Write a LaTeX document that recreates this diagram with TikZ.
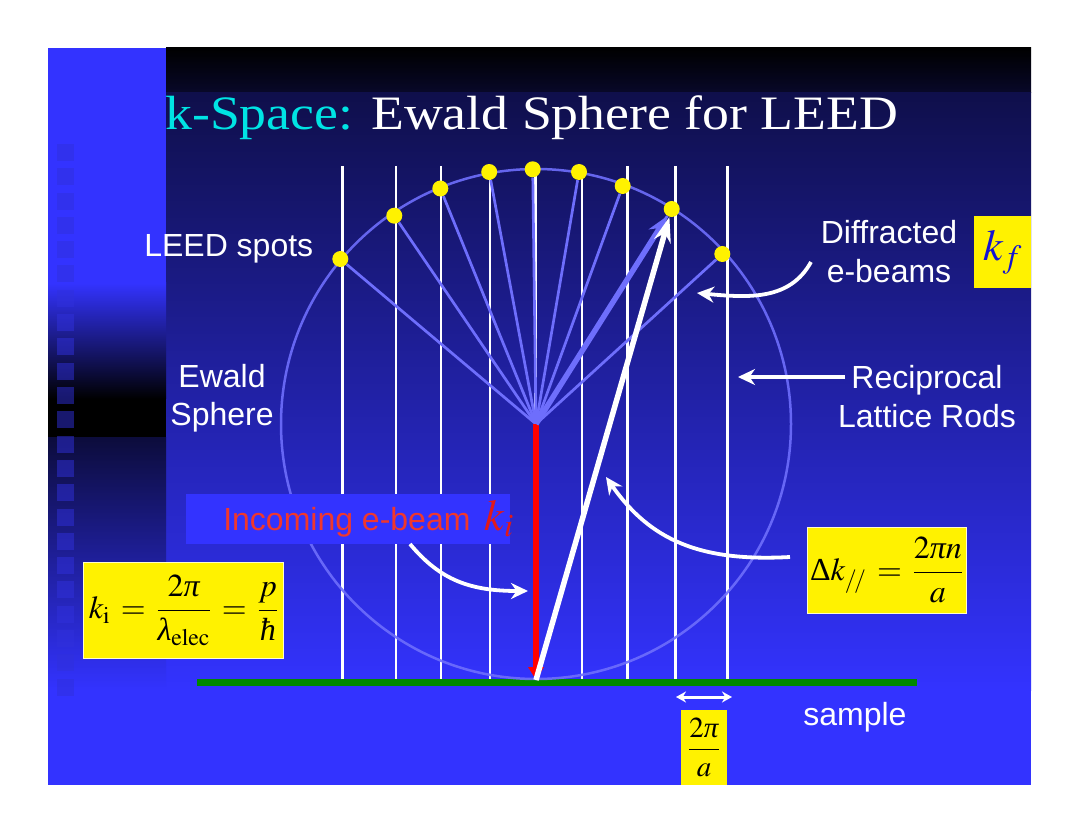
\documentclass[tikz,border=0pt]{standalone}
\usepackage{amsmath}
\usepackage{mathptmx}
\usepackage[no-math]{fontspec}
\setmainfont{Liberation Serif}
\setsansfont{Liberation Sans}
\usepackage{xcolor}
\usepackage{tikz}
\usetikzlibrary{arrows.meta}
\usetikzlibrary{calc}

\definecolor{slideblue}{RGB}{51,51,255}
\definecolor{navy}{RGB}{15,15,75}
\definecolor{ewald}{RGB}{110,110,252}
\definecolor{titlecyan}{RGB}{0,228,228}
\definecolor{samplegreen}{RGB}{0,136,0}
\definecolor{beamred}{RGB}{240,55,45}
\definecolor{kired}{RGB}{225,25,25}
\definecolor{kfblue}{RGB}{20,20,210}
\definecolor{squarecol}{RGB}{48,48,220}

\newcommand{\ipi}{\text{\itshape π}}
\newcommand{\ilam}{\text{\itshape λ}}
\newcommand{\ihbar}{\text{\itshape ħ}}

\begin{document}
\begin{tikzpicture}[x=1pt, y=-1pt, semithick]
  \tikzstyle{note}=[text=white, inner sep=0pt, font=\sffamily\fontsize{32}{39}\selectfont]
  \tikzstyle{rod}=[draw=white, line width=2.8pt]
  \tikzstyle{fan}=[draw=ewald, line width=2.7pt]
  \tikzstyle{spot}=[circle, fill=yellow, inner sep=0pt, minimum size=16pt]
  \tikzstyle{ybox}=[fill=yellow, text=black, inner sep=0pt, font=\rmfamily\fontsize{32}{38}\selectfont]
  \tikzstyle{callout}=[draw=white, line width=3.8pt, -{Stealth[length=17pt, width=16pt]}]
\fill[white] (0,0) rectangle (1080,834);
\useasboundingbox (0,0) rectangle (1080,834);
% slide background
\shade[top color=black, bottom color=navy!55!black] (166,48) rectangle (1031,93);
\shade[top color=navy, bottom color=slideblue] (166,93) rectangle (1031,690);
\fill[slideblue] (166,690) rectangle (1031,785);
\fill[slideblue] (48,48) rectangle (166,283);
\shade[top color=slideblue, bottom color=black] (48,283) rectangle (166,399);
\fill[black] (48,399) rectangle (166,438);
\shade[top color=navy!80!black, bottom color=slideblue] (48,438) rectangle (166,690);
\fill[slideblue] (48,690) rectangle (166,785);
\foreach \i in {0,...,22}
  \fill[squarecol, opacity=.5] (57,144+24.3*\i) rectangle +(17,17);
% title
\node[anchor=base west, inner sep=0pt, text=white, font=\rmfamily\fontsize{48}{56}\selectfont] (title) at (165,130)
  {\scalebox{1.12}[1]{\textcolor{titlecyan}{k-Space:} Ewald Sphere for LEED}};
% rods and sample
\foreach \x in {342.7,396,441,490,535.5,582,627.7,675.5,727.5}
  \draw[rod] (\x,166) -- (\x,680);
\draw[line width=6.5pt, samplegreen] (197,682.5) -- (917,682.5);
\coordinate (apex) at (536,424);
\coordinate (foot) at (536,680);
\draw[ewald, line width=2.5pt, opacity=.9] (apex) circle[radius=255pt];
% spots on the sphere
\foreach \x/\y [count=\n] in {340.3/259, 394.3/215.7, 440.3/188.5, 489.2/172, 532.7/169.3, 579/172, 622.7/186, 671.7/209, 722.3/254}{
  \node[spot] (spot_\n) at (\x,\y) {};
  \draw[fan] (apex) -- (spot_\n);
}
\draw[draw=red, line width=5.5pt, -{Triangle[length=13pt, width=15pt]}] (apex) -- (foot);
\draw[draw=ewald, line width=5.5pt, -{Stealth[length=21pt, width=17pt]}] (apex) -- (spot_8);
\draw[draw=white, line width=5.5pt, -{Stealth[length=25pt, width=17pt]}] (foot) -- (spot_8);
% labels
\node[note, anchor=base west] (spots) at (144,257) {LEED spots};
\node[note, align=center, anchor=base] (ewaldlbl) at (222,426) {Ewald\\Sphere};
\node[note, align=center, anchor=base] (diff) at (889,283) {Diffracted\\e-beams};
\node[note, align=center, anchor=base] (recip) at (927,428) {Reciprocal\\Lattice Rods};
\node[note, anchor=base west] (samplelbl) at (803,725) {sample};
\node[ybox, minimum width=57pt, minimum height=72pt, text=kfblue, font=\rmfamily\fontsize{44}{50}\selectfont] (kf) at (1002.5,252) {$k_f$};
\node[fill=slideblue, minimum width=324pt, minimum height=50pt, inner sep=0pt] (inbox) at (348,519) {};
\node[note, anchor=base west, text=beamred] (intext) at (223,530)
  {Incoming e-beam\hspace{14pt}{\rmfamily\fontsize{44}{50}\selectfont\color{kired}$k_i$}};
\node[ybox, draw=white!80!yellow, thin, minimum width=200pt, minimum height=96pt] (kibox) at (183.5,610.5)
  {$k_{\mathrm{i}} \,=\, \dfrac{2\ipi}{\ilam_{\mathrm{elec}}} \,=\, \dfrac{p}{\ihbar}$};
\node[ybox, draw=white!80!yellow, thin, minimum width=159pt, minimum height=86pt] (dkbox) at (886.5,570)
  {$\text{Δ}k_{/\!/} \,=\, \dfrac{2\ipi n}{a}$};
\node[ybox, minimum width=46pt, minimum height=75pt, font=\rmfamily\fontsize{29}{34}\selectfont] (abox) at (704,747.5)
  {$\dfrac{2\ipi}{a}$};
% pointers
\coordinate (inout) at (410,544);
\coordinate (inhit) at (528,591);
\draw[callout] (inout) .. controls (440,580) and (470,591) .. (inhit);
\coordinate (diffout) at (811,262);
\coordinate (diffhit) at (697,293);
\draw[callout] (diffout) .. controls (790,300) and (750,298) .. (diffhit);
\coordinate (recout) at (845,377);
\coordinate (rechit) at (738,377);
\draw[callout] (recout) -- (rechit);
\coordinate (dkout) at (790,557);
\coordinate (dkhit) at (606,477);
\draw[callout] (dkout) .. controls (700,562) and (650,540) .. (dkhit);
\coordinate (rodl) at (676,697);
\coordinate (rodr) at (732,697);
\draw[callout, line width=3pt, {Stealth[length=10pt, width=11pt]}-{Stealth[length=10pt, width=11pt]}] (rodl) -- (rodr);
\end{tikzpicture}
\end{document}
